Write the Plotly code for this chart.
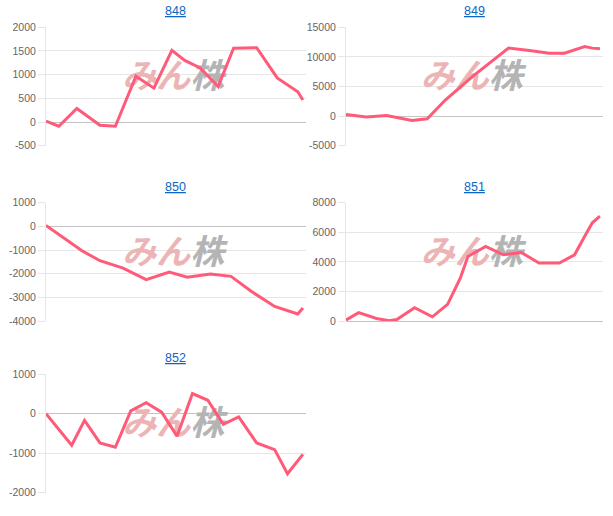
import plotly.graph_objects as go

# ---- data (x = relative day position 0..100, y = value) ----
titles = ["848", "849", "850", "851", "852"]

x848 = [0, 5, 12, 21, 27, 35, 42, 49, 54, 60, 67, 73, 82, 90, 98, 100]
y848 = [20, -90, 285, -70, -90, 965, 715, 1515, 1300, 1140, 750, 1560, 1570, 930, 640, 465]

x849 = [0, 8, 16, 26, 32, 39, 50, 58, 64, 73, 80, 86, 94, 97, 100]
y849 = [280, -170, 110, -740, -450, 2670, 6760, 9490, 11480, 11020, 10630, 10630, 11760, 11480, 11360]

x850 = [0, 6, 14, 21, 30, 39, 48, 55, 64, 72, 80, 89, 98, 100]
y850 = [40, -420, -1030, -1450, -1760, -2250, -1930, -2150, -2010, -2110, -2750, -3380, -3700, -3450]

x851 = [0, 5, 12, 17, 20, 27, 34, 40, 45, 48, 55, 62, 69, 76, 84, 90, 94, 97, 100]
y851 = [70, 570, 180, 20, 110, 900, 290, 1130, 2900, 4370, 5050, 4480, 4640, 3920, 3920, 4480, 5730, 6640, 7090]

x852 = [0, 10, 15, 21, 27, 33, 39, 45, 51, 57, 63, 69, 75, 82, 89, 94, 100]
y852 = [0, -800, -170, -740, -850, 70, 280, 40, -570, 510, 340, -270, -80, -740, -910, -1520, -1030]

ticks848 = [-500, 0, 500, 1000, 1500, 2000]
ticks849 = [-5000, 0, 5000, 10000, 15000]
ticks850 = [-4000, -3000, -2000, -1000, 0, 1000]
ticks851 = [0, 2000, 4000, 6000, 8000]
ticks852 = [-2000, -1000, 0, 1000]

xs = [x848, x849, x850, x851, x852]
ys = [y848, y849, y850, y851, y852]
tks = [ticks848, ticks849, ticks850, ticks851, ticks852]

# ---- layout geometry ----
W, H = 613, 516
col_px = [(46, 306), (346, 603)]
row_px = [(21.8, 143.0), (201.4, 322.6), (377.0, 498.2)]
title_px = [5.5, 185.0, 360.6]

LINE = "#ff5a78"
GRID = "#e6e6e6"
ZERO = "#c4c4c4"

fig = go.Figure()
layout = dict(
    width=W, height=H, margin=dict(l=0, r=0, t=0, b=0),
    paper_bgcolor="white", plot_bgcolor="white", showlegend=False,
    font=dict(family="Liberation Sans, Arial, sans-serif", size=11, color="#666"),
    annotations=[],
)

for i in range(5):
    r, c = divmod(i, 2)
    ax = "" if i == 0 else str(i + 1)
    xa, ya = "x" + ax, "y" + ax
    x0p, x1p = col_px[c]
    y0p, y1p = row_px[r]
    tv = tks[i]
    lo, hi = tv[0], tv[-1]
    span = hi - lo
    wy = (lo + hi) / 2 + span * 7 / (y1p - y0p)
    fig.add_trace(go.Scatter(
        x=[49.5], y=[wy], mode="text", xaxis=xa, yaxis=ya, hoverinfo="skip",
        text=["<b><i><span style='color:#ecb4b4'>みん</span><span style='color:#b4b4b4'>株</span></i></b>"],
        textfont=dict(family="Noto Sans CJK JP", size=34),
        textposition="middle center",
    ))
    fig.add_trace(go.Scatter(
        x=xs[i], y=ys[i], mode="lines", xaxis=xa, yaxis=ya,
        line=dict(color=LINE, width=3), hoverinfo="skip",
    ))
    layout["xaxis" + ax] = dict(
        domain=[x0p / W, x1p / W], range=[0, 101.2], anchor=ya,
        showgrid=False, zeroline=False, showticklabels=False, showline=False,
        fixedrange=True,
    )
    layout["yaxis" + ax] = dict(
        domain=[1 - y1p / H, 1 - y0p / H], range=[lo, hi], anchor=xa,
        tickmode="array", tickvals=tv, ticktext=[str(v) for v in tv],
        showgrid=True, gridcolor=GRID, gridwidth=1,
        zeroline=True, zerolinecolor=ZERO, zerolinewidth=1,
        showline=True, linecolor=GRID, linewidth=1,
        ticks="outside", ticklen=7, tickcolor=GRID, tickwidth=1,
        tickfont=dict(size=10.5, color="#666"), fixedrange=True,
    )
    layout["annotations"].append(dict(
        x=(x0p + x1p) / 2 / W, y=1 - title_px[r] / H, xref="paper", yref="paper",
        text="<u>" + titles[i] + "</u>", showarrow=False,
        font=dict(size=12.5, color="#0b66c3", family="Liberation Sans, Arial, sans-serif"),
        xanchor="center", yanchor="middle",
    ))

fig.update_layout(**layout)
fig.write_html("out.html", config={"displayModeBar": False},
               post_script="document.body.style.margin='0';")
